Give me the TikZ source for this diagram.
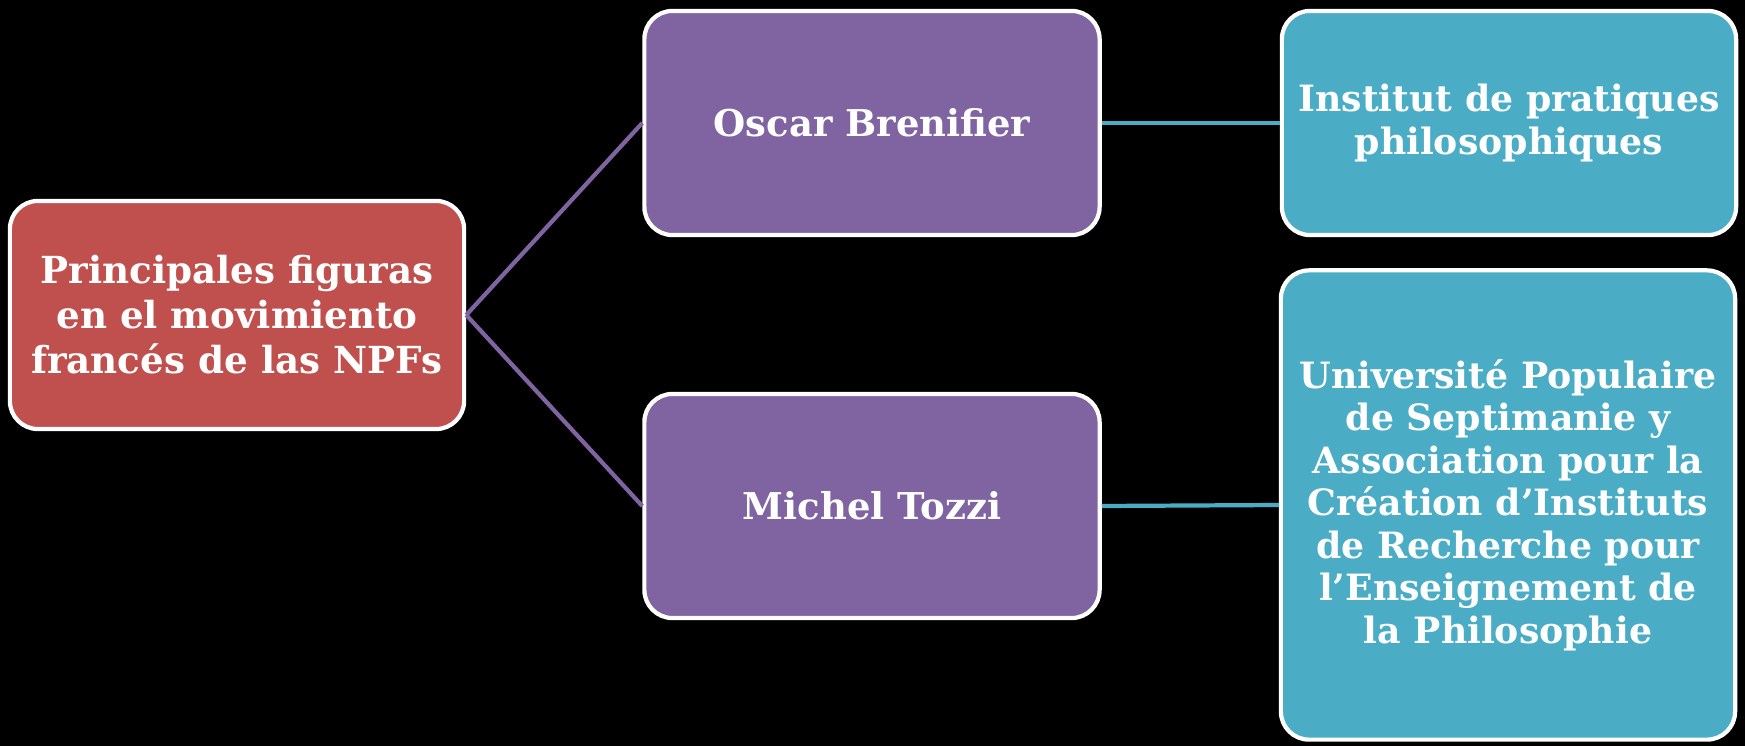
\documentclass[tikz,border=0pt]{standalone}
\usepackage{fontspec}
\setmainfont{DejaVu Serif}
\usetikzlibrary{positioning}

\definecolor{rootred}{HTML}{C0504D}
\definecolor{namepurple}{HTML}{8064A2}
\definecolor{instcyan}{HTML}{4BACC6}

\tikzset{
  mapbox/.style={draw=white, line width=1.2pt, rounded corners=8pt, text=white,
    align=center, inner sep=2pt, font=\bfseries\fontsize{10.3}{12.1}\selectfont},
  rootbox/.style={mapbox, fill=rootred, minimum width=4.54cm, minimum height=2.28cm,
    font=\bfseries\fontsize{10.6}{12.8}\selectfont},
  namebox/.style={mapbox, fill=namepurple, minimum width=4.55cm, minimum height=2.24cm,
    font=\bfseries\fontsize{10.5}{12.6}\selectfont},
  instbox/.style={mapbox, fill=instcyan, minimum width=4.54cm},
  namelink/.style={namepurple, line width=1.2pt},
  instlink/.style={instcyan, line width=1.2pt}
}

\begin{document}
\begin{tikzpicture}[x=0.01cm, y=-0.01cm]
\fill[black] (0,0) rectangle (1745,746);
\useasboundingbox (0,0) rectangle (1745,746);

% main topic
\node[rootbox] (root) at (237,315) {Principales figuras\\en el movimiento\\francés de las NPFs};

% people
\node[namebox] (oscar) at (872,123) {Oscar Brenifier};
\node[namebox] (michel) at (872,506) {Michel Tozzi};

% institutions
\node[instbox, minimum height=2.24cm] (ipp) at (1509,123) {Institut de pratiques\\philosophiques};
\node[instbox, minimum height=4.69cm] (ups) at (1508,505) {Université Populaire\\de Septimanie y\\Association pour la\\Création d’Instituts\\de Recherche pour\\l’Enseignement de\\la Philosophie};

\draw[namelink] (root.east) -- (oscar.west);
\draw[namelink] (root.east) -- (michel.west);
\draw[instlink] (oscar.east) -- (ipp.west);
\draw[instlink] (michel.east) -- (ups.west);
\end{tikzpicture}
\end{document}
